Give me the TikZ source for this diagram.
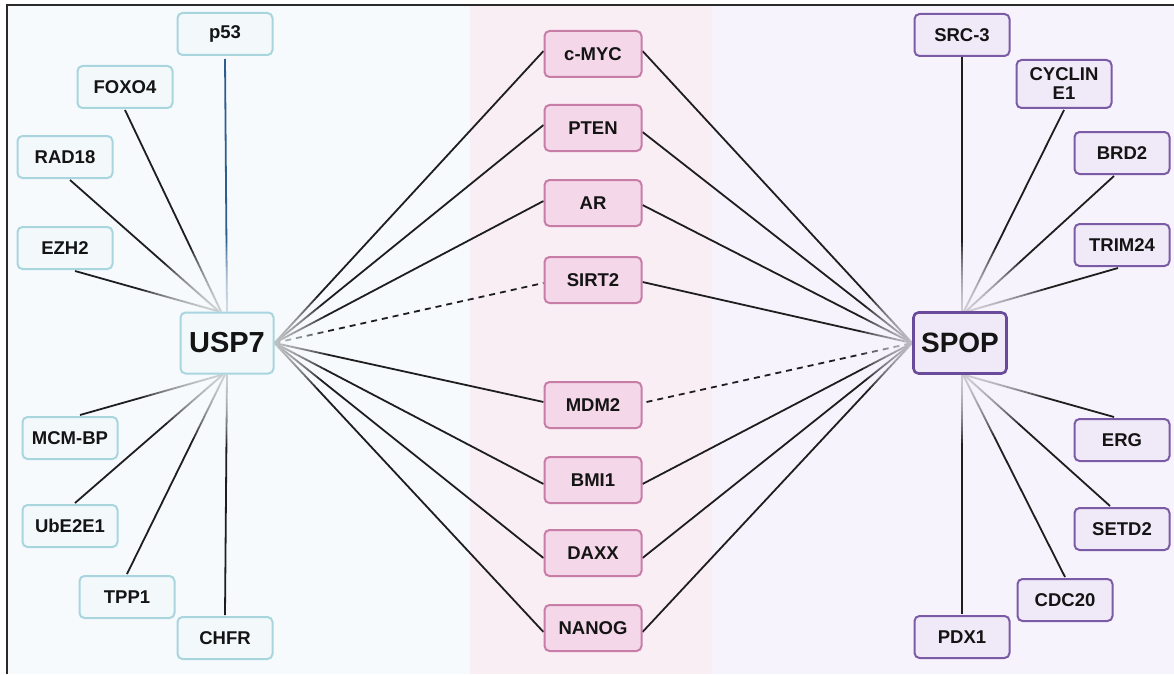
\documentclass[tikz,border=0pt]{standalone}
\usepackage{fontspec}
\setmainfont{Liberation Sans}
\definecolor{bgL}{HTML}{F6FAFD}
\definecolor{bgM}{HTML}{FAEEF5}
\definecolor{bgR}{HTML}{F6F3FD}
\definecolor{bdL}{HTML}{A9D5DF}
\definecolor{fiL}{HTML}{F3F9FB}
\definecolor{bdM}{HTML}{C77DA6}
\definecolor{fiM}{HTML}{F4D7E8}
\definecolor{bdR}{HTML}{7B5AA6}
\definecolor{bdRd}{HTML}{6A4A9A}
\definecolor{fiR}{HTML}{F0EAF8}
\definecolor{ln}{HTML}{1E1E1E}
\definecolor{blueln}{HTML}{2E5E8E}
\definecolor{frame}{HTML}{2A2A2A}
\pgfdeclarelayer{panels}\pgfdeclarelayer{edges}\pgfdeclarelayer{fade}
\pgfsetlayers{panels,edges,fade,main}
\tikzset{
  box/.style={rounded corners=5pt, line width=2pt, minimum width=95pt, minimum height=42pt,
    inner sep=0pt, font=\fontsize{18.5}{19}\selectfont\bfseries, align=center, text=black!92},
  lbox/.style={box, draw=bdL, fill=fiL},
  mbox/.style={box, draw=bdM, fill=fiM, minimum width=97pt, minimum height=46pt},
  rbox/.style={box, draw=bdR, fill=fiR},
  hubL/.style={lbox, minimum width=93pt, minimum height=61pt, font=\fontsize{29}{30}\selectfont\bfseries},
  hubR/.style={rbox, draw=bdRd, line width=2.6pt, minimum width=93pt, minimum height=61pt, font=\fontsize{28}{30}\selectfont\bfseries},
  conn/.style={draw=ln, line width=1.8pt},
  dconn/.style={conn, dash pattern=on 6pt off 5pt},
}
\begin{document}
\begin{tikzpicture}[x=1pt,y=-1pt]
\useasboundingbox (0,0) rectangle (1174,674);
% left nodes
\node[lbox] (p53) at (225,34) {p53};
\node[lbox] (FOXO4) at (125,87) {FOXO4};
\node[lbox] (RAD18) at (65,157) {RAD18};
\node[lbox] (EZH2) at (65,248) {EZH2};
\node[hubL] (USP7) at (227,343) {USP7};
\node[lbox] (MCMBP) at (70,438) {MCM-BP};
\node[lbox] (UbE2E1) at (70,526) {UbE2E1};
\node[lbox] (TPP1) at (127,597) {TPP1};
\node[lbox] (CHFR) at (225,638) {CHFR};
% middle nodes
\node[mbox] (cMYC) at (593,54) {c-MYC};
\node[mbox] (PTEN) at (593,128) {PTEN};
\node[mbox] (AR) at (593,203) {AR};
\node[mbox] (SIRT2) at (593,280) {SIRT2};
\node[mbox] (MDM2) at (593,405) {MDM2};
\node[mbox] (BMI1) at (593,480) {BMI1};
\node[mbox] (DAXX) at (593,553) {DAXX};
\node[mbox] (NANOG) at (593,628) {NANOG};
% right nodes
\node[rbox] (SRC3) at (962,35) {SRC-3};
\node[rbox, minimum height=48pt] (CYCLINE1) at (1064,84) {CYCLIN\\E1};
\node[rbox] (BRD2) at (1122,153) {BRD2};
\node[rbox] (TRIM24) at (1122,245) {TRIM24};
\node[hubR] (SPOP) at (960,343) {SPOP};
\node[rbox] (ERG) at (1122,440) {ERG};
\node[rbox] (SETD2) at (1122,529) {SETD2};
\node[rbox] (CDC20) at (1065,600) {CDC20};
\node[rbox] (PDX1) at (962,637) {PDX1};

\begin{pgfonlayer}{panels}
\fill[white] (0,0) rectangle (1174,674);
\fill[bgL] (7,6) rectangle (470,674);
\fill[bgM] (470,6) rectangle (712,674);
\fill[bgR] (712,6) rectangle (1174,674);
\draw[frame, line width=2pt] (6.5,674) -- (6.5,5) -- (1174,5);
\end{pgfonlayer}

\begin{pgfonlayer}{edges}
% USP7 satellites
\draw[conn, draw=blueln] ([yshift=-3pt]p53.south) -- (USP7.north);
\draw[conn] ([yshift=-1pt]FOXO4.south) -- ([xshift=-6pt]USP7.north);
\draw[conn] ([xshift=5pt,yshift=-1pt]RAD18.south) -- ([xshift=-8pt]USP7.north);
\draw[conn] ([xshift=10pt,yshift=-1pt]EZH2.south) -- ([xshift=-8pt]USP7.north);
\draw[conn] ([xshift=10pt,yshift=1pt]MCMBP.north) -- ([xshift=-4pt]USP7.south);
\draw[conn] ([xshift=5pt,yshift=1pt]UbE2E1.north) -- ([xshift=-4pt]USP7.south);
\draw[conn] ([yshift=1pt]TPP1.north) -- ([xshift=-2pt]USP7.south);
\draw[conn] ([yshift=1pt]CHFR.north) -- (USP7.south);
% USP7 to middle
\draw[conn] (USP7.east) -- ([yshift=3pt]cMYC.west);
\draw[conn] (USP7.east) -- ([yshift=3pt]PTEN.west);
\draw[conn] (USP7.east) -- ([yshift=2pt]AR.west);
\draw[dconn] (USP7.east) -- ([yshift=-3pt]SIRT2.west);
\draw[conn] (USP7.east) -- ([yshift=3pt]MDM2.west);
\draw[conn] (USP7.east) -- ([yshift=-4pt]BMI1.west);
\draw[conn] (USP7.east) -- ([yshift=-5pt]DAXX.west);
\draw[conn] (USP7.east) -- ([yshift=-4pt]NANOG.west);
% middle to SPOP
\draw[conn] ([yshift=3pt]cMYC.east) -- (SPOP.west);
\draw[conn] ([yshift=-4pt]PTEN.east) -- (SPOP.west);
\draw[conn] ([yshift=-2pt]AR.east) -- (SPOP.west);
\draw[conn] ([yshift=-2pt]SIRT2.east) -- (SPOP.west);
\draw[dconn] ([xshift=4pt,yshift=3pt]MDM2.east) -- (SPOP.west);
\draw[conn] ([yshift=-4pt]BMI1.east) -- (SPOP.west);
\draw[conn] ([yshift=-5pt]DAXX.east) -- (SPOP.west);
\draw[conn] ([yshift=-4pt]NANOG.east) -- (SPOP.west);
% SPOP satellites
\draw[conn] (SRC3.south) -- (SPOP.north -| SRC3.south);
\draw[conn] ([yshift=-1pt]CYCLINE1.south) -- ([xshift=4pt]SPOP.north);
\draw[conn] ([xshift=-8pt,yshift=-1pt]BRD2.south) -- ([xshift=6pt]SPOP.north);
\draw[conn] ([xshift=-4pt,yshift=-1pt]TRIM24.south) -- ([xshift=8pt]SPOP.north);
\draw[conn] ([xshift=-8pt,yshift=1pt]ERG.north) -- ([xshift=4pt]SPOP.south);
\draw[conn] ([xshift=-12pt,yshift=1pt]SETD2.north) -- ([xshift=4pt]SPOP.south);
\draw[conn] ([yshift=1pt]CDC20.north) -- ([xshift=3pt]SPOP.south);
\draw[conn] ([yshift=1pt]PDX1.north) -- (SPOP.south -| PDX1.north);
\end{pgfonlayer}

\begin{pgfonlayer}{fade}
\foreach \r in {40,44,...,100}{
  \fill[bgL, opacity=0.1] (USP7.center) circle (\r);
  \fill[bgR, opacity=0.1] (SPOP.center) circle (\r);
}
\end{pgfonlayer}
\end{tikzpicture}
\end{document}
